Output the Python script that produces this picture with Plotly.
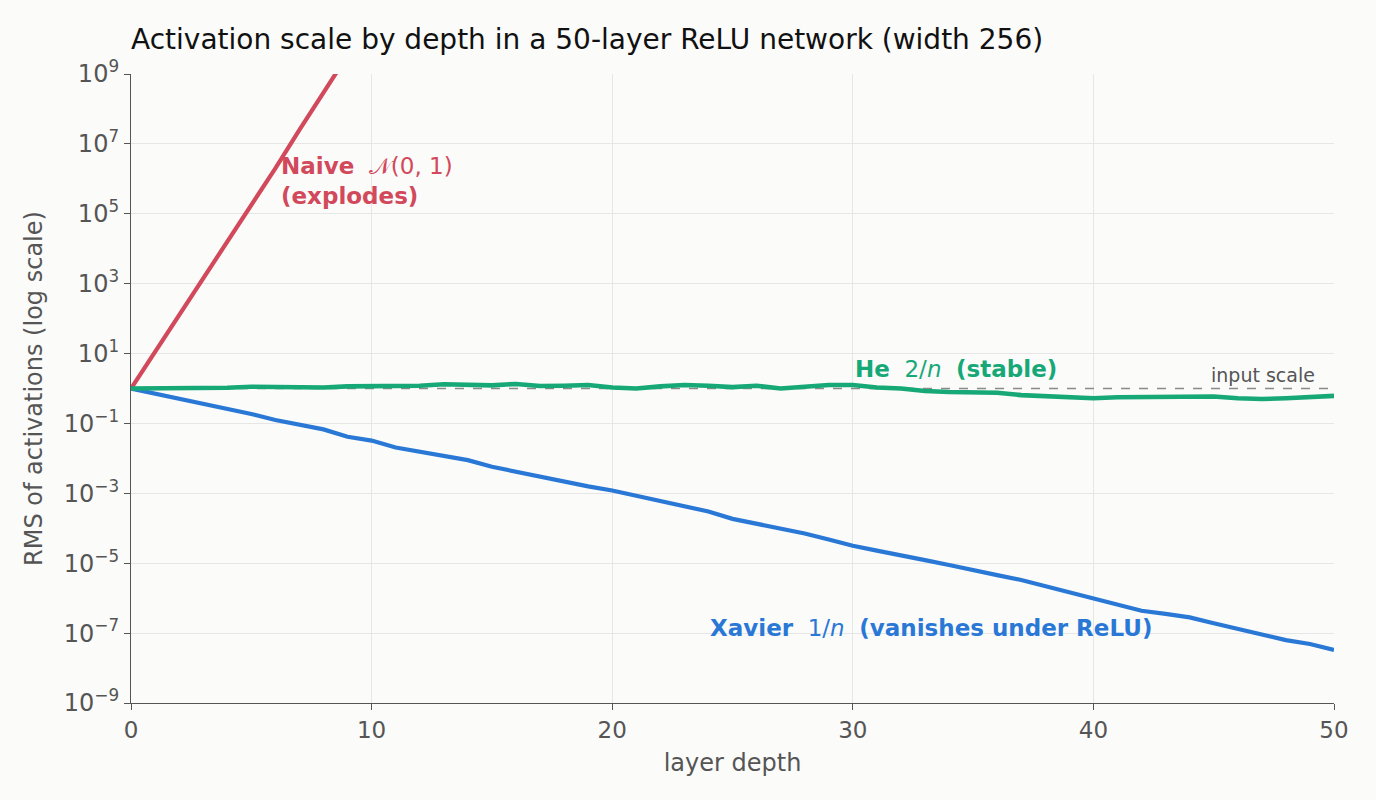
import plotly.graph_objects as go

layers = list(range(51))

# log10 of RMS activations
naive_log = [0.0, 1.05, 2.1, 3.15, 4.2, 5.2, 6.3, 7.4, 8.5, 9.55, 10.6]
xavier_log = [0.0, -0.14, -0.28, -0.43, -0.57, -0.73, -0.90, -1.03, -1.17, -1.38,
              -1.49, -1.69, -1.81, -1.93, -2.05, -2.24, -2.38, -2.54, -2.69, -2.80,
              -2.92, -3.07, -3.24, -3.38, -3.52, -3.73, -3.87, -4.00, -4.15, -4.32,
              -4.50, -4.64, -4.76, -4.91, -5.05, -5.21, -5.34, -5.48, -5.65, -5.84,
              -6.02, -6.18, -6.36, -6.45, -6.55, -6.72, -6.88, -7.03, -7.20, -7.31,
              -7.48]
he_log = [0.0, 0.0, -0.01, 0.01, 0.02, 0.05, 0.04, 0.05, 0.03, 0.06,
          0.06, 0.08, 0.08, 0.12, 0.11, 0.09, 0.13, 0.07, 0.08, 0.10,
          0.03, 0.0, 0.06, 0.10, 0.08, 0.04, 0.08, 0.0, 0.05, 0.10,
          0.10, 0.03, 0.0, -0.07, -0.10, -0.12, -0.12, -0.19, -0.22, -0.25,
          -0.28, -0.25, -0.24, -0.22, -0.21, -0.23, -0.28, -0.30, -0.28, -0.23,
          -0.21]

naive = [10 ** v for v in naive_log]
xavier = [10 ** v for v in xavier_log]
he = [10 ** v for v in he_log]

x_ticks = [0, 10, 20, 30, 40, 50]
y_exps = [-9, -7, -5, -3, -1, 1, 3, 5, 7, 9]
y_tickvals = [10 ** e for e in y_exps]
y_ticktext = ["10<sup>%s</sup>" % (str(e).replace("-", "\u2212")) for e in y_exps]

RED = "#d1495b"
BLUE = "#2a78d6"
GREEN = "#17a877"
BG = "#fbfbfa"
FONT = "DejaVu Sans"
AX = "#555555"

fig = go.Figure()
fig.add_trace(go.Scatter(x=[0, 50], y=[1, 1], mode="lines",
                         line=dict(color="#8a8a8a", width=1.5, dash="dash"),
                         showlegend=False, hoverinfo="skip"))
fig.add_trace(go.Scatter(x=layers[:len(naive)], y=naive, mode="lines",
                         line=dict(color=RED, width=4.2), showlegend=False))
fig.add_trace(go.Scatter(x=layers, y=xavier, mode="lines",
                         line=dict(color=BLUE, width=4.2), showlegend=False))
fig.add_trace(go.Scatter(x=layers, y=he, mode="lines",
                         line=dict(color=GREEN, width=4.6), showlegend=False))

nb = "\u00a0"
ANN = 23
fig.add_annotation(x=6.15, y=5.95, xref="x", yref="y", xanchor="left", yanchor="middle",
                   align="left", showarrow=False,
                   text="<b>Naive</b>" + nb * 2 + "\U0001D4A9(0, 1)<br><b>(explodes)</b>",
                   font=dict(family=FONT, size=ANN, color=RED))
fig.add_annotation(x=30.0, y=0.56, xref="x", yref="y", xanchor="left", yanchor="middle",
                   showarrow=False,
                   text="<b>He</b>" + nb * 2 + "2/<i>n</i>" + nb * 2 + "<b>(stable)</b>",
                   font=dict(family=FONT, size=ANN, color=GREEN))
fig.add_annotation(x=49.3, y=0.39, xref="x", yref="y", xanchor="right", yanchor="middle",
                   showarrow=False, text="input scale",
                   font=dict(family=FONT, size=19, color="#555555"))
fig.add_annotation(x=24.0, y=-6.85, xref="x", yref="y", xanchor="left", yanchor="middle",
                   showarrow=False,
                   text="<b>Xavier</b>" + nb * 2 + "1/<i>n</i>" + nb * 2 + "<b>(vanishes under ReLU)</b>",
                   font=dict(family=FONT, size=ANN, color=BLUE))

fig.update_layout(
    width=1376, height=800,
    paper_bgcolor=BG, plot_bgcolor=BG,
    margin=dict(l=131, r=42, t=74, b=97),
    font=dict(family=FONT, color=AX, size=23),
    title=dict(text="Activation scale by depth in a 50-layer ReLU network (width 256)",
               x=131 / 1376, xanchor="left", y=1 - 39 / 800, yanchor="middle",
               font=dict(family=FONT, size=28, color="#111111")),
)
fig.update_xaxes(range=[0, 50], tickvals=x_ticks, showgrid=True, gridcolor="#e6e6e6",
                 gridwidth=1, showline=True, linecolor=AX, linewidth=1.2,
                 ticks="outside", ticklen=6, tickcolor=AX, zeroline=False,
                 title=dict(text="layer depth", font=dict(size=24, color=AX), standoff=12),
                 tickfont=dict(size=23, color=AX))
fig.update_yaxes(type="log", range=[-9, 9], tickvals=y_tickvals, ticktext=y_ticktext,
                 showgrid=True, gridcolor="#e6e6e6", gridwidth=1, showline=True,
                 linecolor=AX, linewidth=1.2, ticks="outside", ticklen=6,
                 tickcolor=AX, zeroline=False,
                 title=dict(text="RMS of activations (log scale)",
                            font=dict(size=24, color=AX), standoff=14),
                 tickfont=dict(size=24, color=AX))

fig.write_html("out.html")
